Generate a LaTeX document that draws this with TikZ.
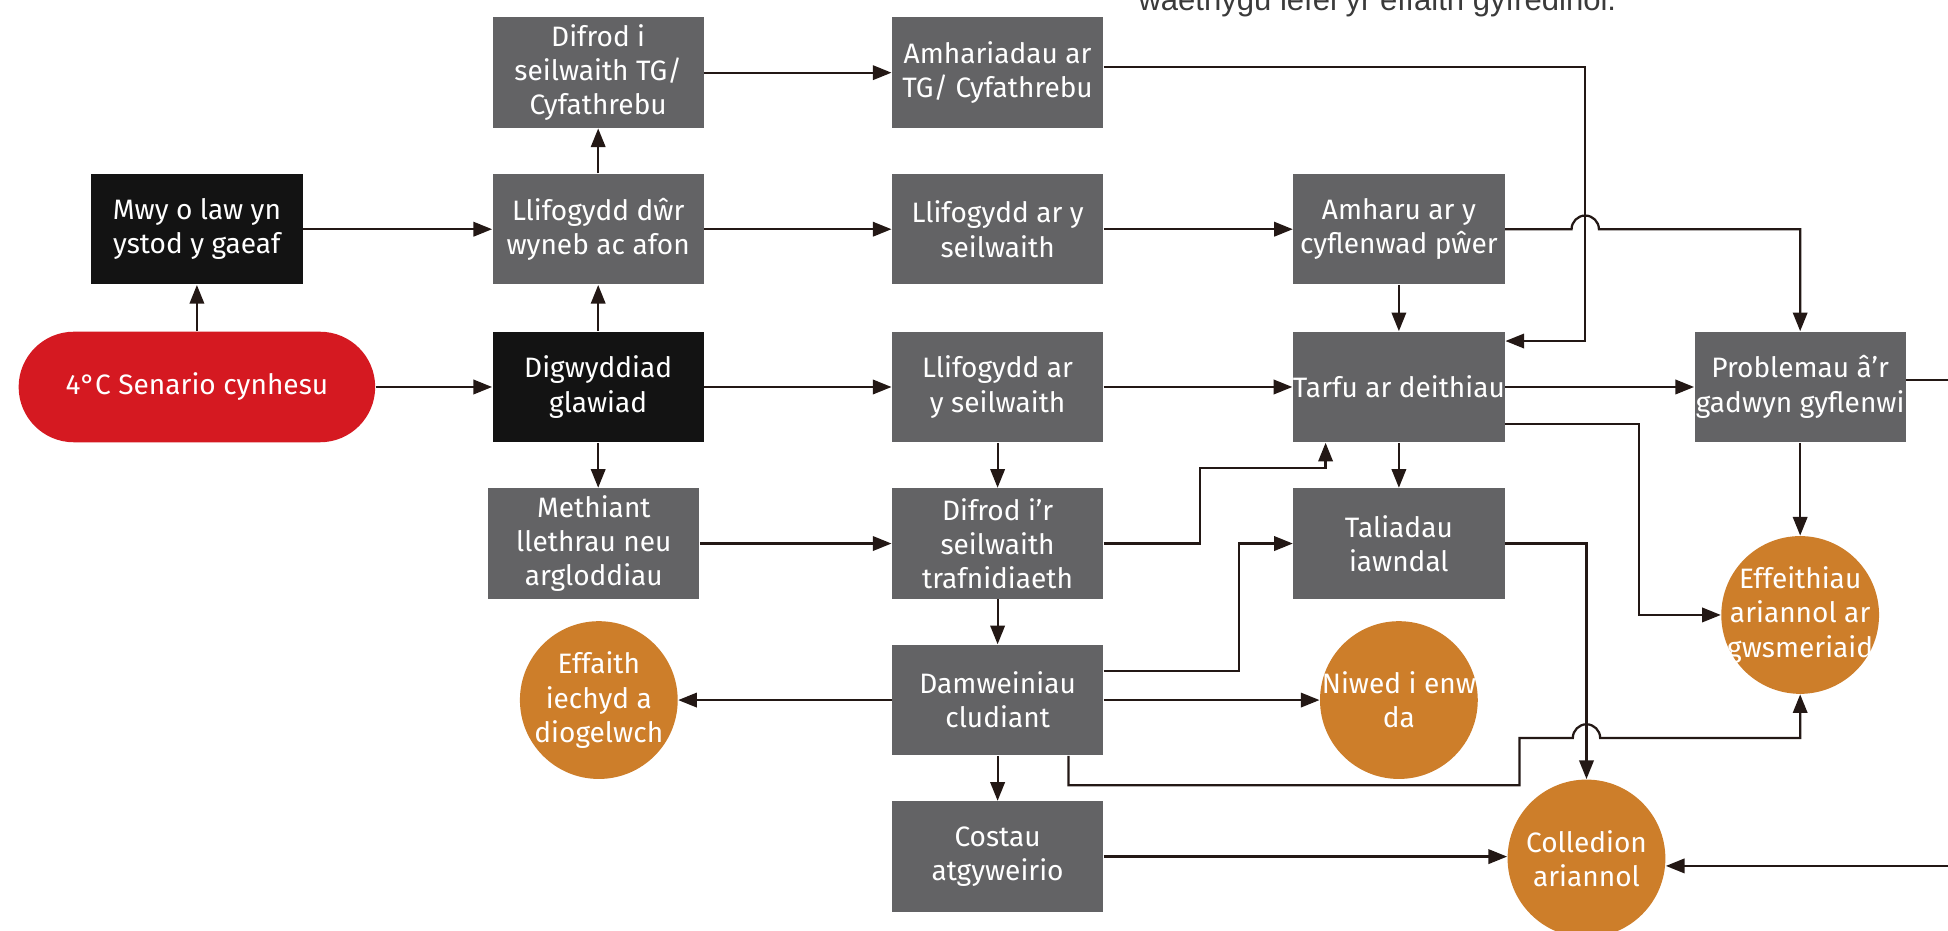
\documentclass[tikz,border=0pt]{standalone}
\usepackage{fontspec}
\setmainfont{Fira Sans}
\newfontfamily\notefont{Liberation Sans}
\usetikzlibrary{arrows.meta,calc}

\definecolor{boxgray}{RGB}{99,99,101}
\definecolor{boxblack}{RGB}{19,19,19}
\definecolor{scenred}{RGB}{213,25,33}
\definecolor{circorange}{RGB}{205,126,42}
\definecolor{linecol}{RGB}{35,24,21}
\definecolor{notegray}{RGB}{58,58,58}

\tikzset{
	box/.style={rectangle, fill=boxgray, text=white, minimum width=85pt, minimum height=44.5pt,
		inner sep=0pt, align=center, font=\fontsize{11.3}{13.8}\selectfont},
	darkbox/.style={box, fill=boxblack},
	startbox/.style={box, fill=scenred, minimum width=143.5pt, rounded corners=22.25pt},
	endcirc/.style={circle, fill=circorange, text=white, minimum size=63.5pt, inner sep=-4pt,
		align=center, font=\fontsize{11.3}{13.8}\selectfont},
	link/.style={draw=linecol, line width=0.9pt},
	arr/.style={link, -{Triangle[length=7.5pt,width=5.8pt]}},
}

\begin{document}
\begin{tikzpicture}[x=0.5pt, y=0.5pt]
			\useasboundingbox (0,0) rectangle (1568,-749);

			% Note cut at the top
			\node[font=\notefont\fontsize{12.5}{15}\selectfont, text=notegray, inner sep=0pt, anchor=base west]
				(note) at (916,-8.5) {waethygu lefel yr effaith gyfredinol.};

			% Causes
			\node[startbox] (senario) at (158.5,-311.5) {4°C Senario cynhesu};
			\node[darkbox] (mwy) at (158.5,-184.5) {Mwy o law yn\\ystod y gaeaf};
			\node[darkbox] (rainfall) at (481.5,-311.5) {Digwyddiad\\glawiad};

			% Second column
			\node[box] (tgdmg) at (481.5,-58.5) {Difrod i\\seilwaith TG/\\Cyfathrebu};
			\node[box] (surfflood) at (481.5,-184.5) {Llifogydd dŵr\\wyneb ac afon};
			\node[box] (slopes) at (478,-437.5) {Methiant\\llethrau neu\\argloddiau};
			\node[endcirc] (health) at (482,-563.5) {Effaith\\iechyd a\\diogelwch};

			% Third column
			\node[box] (tgdisr) at (803,-58.5) {Amhariadau ar\\TG/ Cyfathrebu};
			\node[box] (infflooda) at (803,-184.5) {Llifogydd ar y\\seilwaith};
			\node[box] (inffloodb) at (803,-311.5) {Llifogydd ar\\y seilwaith};
			\node[box] (trdmg) at (803,-437.5) {Difrod i’r\\seilwaith\\trafnidiaeth};
			\node[box] (accid) at (803,-563.5) {Damweiniau\\cludiant};
			\node[box] (repair) at (803,-689.5) {Costau\\atgyweirio};

			% Fourth column
			\node[box] (power) at (1126,-184.5) {Amharu ar y\\cyflenwad pŵer};
			\node[box] (travel) at (1126,-311.5) {Tarfu ar deithiau};
			\node[box] (compen) at (1126,-437.5) {Taliadau\\iawndal};
			\node[endcirc] (reput) at (1126,-563.5) {Niwed i enw\\da};

			% Fifth column
			\node[box] (supply) at (1449,-311.5) {Problemau â’r\\gadwyn gyflenwi};
			\node[endcirc] (custom) at (1449,-495) {Effeithiau\\ariannol ar\\gwsmeriaid};
			\node[endcirc] (finloss) at (1277,-691) {Colledion\\ariannol};

			% Bend points
			\coordinate (busT) at (1276,-54);
			\coordinate (busB) at (1276,-274.5);
			\coordinate (hopA) at (busT |- power.east);
			\coordinate (kinkA) at (966,-377);
			\coordinate (kinkB) at (1067,-377);
			\coordinate (kinkC) at (997,-540);
			\coordinate (kinkD) at (1319,-341);
			\coordinate (dmA) at (1223,-632);
			\coordinate (dmB) at (1223,-594);
			\coordinate (hopB) at (1277,-594);
			\coordinate (offA) at (1568,-306);
			\coordinate (offB) at (1568,-697);

			% Straight links
			\draw[arr] (senario.north) -- (mwy.south);
			\draw[arr] (senario.east) -- (rainfall.west);
			\draw[arr] (mwy.east) -- (surfflood.west);
			\draw[arr] (rainfall.north) -- (surfflood.south);
			\draw[arr] (surfflood.north) -- (tgdmg.south);
			\draw[arr] (rainfall.south) -- (rainfall.south |- slopes.north);
			\draw[arr] (tgdmg.east) -- (tgdisr.west);
			\draw[arr] (surfflood.east) -- (infflooda.west);
			\draw[arr] (rainfall.east) -- (inffloodb.west);
			\draw[arr] (slopes.east) -- (trdmg.west);
			\draw[arr] (infflooda.east) -- (power.west);
			\draw[arr] (inffloodb.east) -- (travel.west);
			\draw[arr] (inffloodb.south) -- (trdmg.north);
			\draw[arr] (trdmg.south) -- (accid.north);
			\draw[arr] (accid.south) -- (repair.north);
			\draw[arr] (accid.west) -- (health.east);
			\draw[arr] (accid.east) -- (reput.west);
			\draw[arr] (power.south) -- (travel.north);
			\draw[arr] (travel.south) -- (compen.north);
			\draw[arr] (travel.east) -- (supply.west);
			\draw[arr] (supply.south) -- (custom.north);
			\draw[arr] (repair.east) -- (repair.east -| finloss.west);

			% Bent links
			\draw[arr] (tgdisr.east |- busT) -- (busT) -- (busB) -- (busB -| travel.east);
			\draw[arr] (power.east) -- ($(hopA)+(-11,0)$) arc[start angle=180, end angle=0, radius=5.5pt] -| (supply.north);
			\draw[arr] (trdmg.east) -| (kinkA) -- (kinkB) -- (kinkB |- travel.south);
			\draw[arr] (accid.east |- kinkC) -- (kinkC) |- (compen.west);
			\draw[arr] (kinkD -| travel.east) -- (kinkD) |- (custom.west);
			\draw[arr] (compen.east) -| (finloss.north);
			\draw[arr] ([xshift=28.5pt]accid.south) |- (dmA) -- (dmB) -- ($(hopB)+(-11,0)$) arc[start angle=180, end angle=0, radius=5.5pt] -| (custom.south);

			% Links leaving the picture
			\draw[link] (supply.east |- offA) -- (offA);
			\draw[arr] (offB) -- (offB -| finloss.east);
		\end{tikzpicture}
\end{document}
